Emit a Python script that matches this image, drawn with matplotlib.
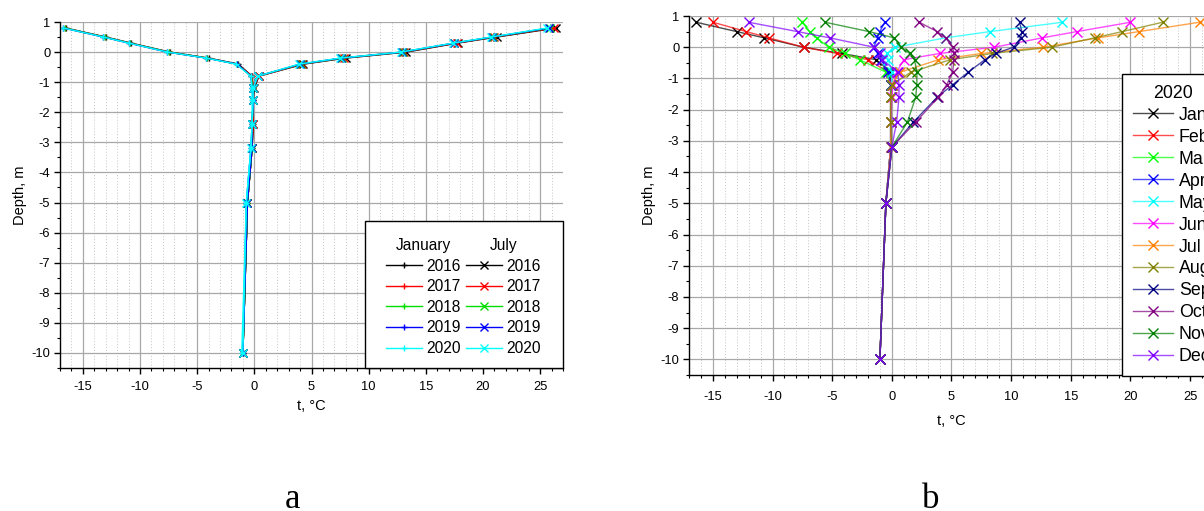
import matplotlib
matplotlib.use("Agg")
import matplotlib.pyplot as plt
from matplotlib.lines import Line2D
from matplotlib.patches import Rectangle
from matplotlib.legend_handler import HandlerTuple
from matplotlib.ticker import MultipleLocator

plt.rcParams['font.family'] = ['Liberation Sans', 'DejaVu Sans']
plt.rcParams['axes.unicode_minus'] = False

W, H = 1204, 511

# measurement depths, m (positive = above ground)
depth = [0.8, 0.5, 0.3, 0, -0.2, -0.4, -0.8, -1.2, -1.6, -2.4, -3.2, -5, -10]

# (a) January / July profiles for each year
years = ['2016', '2017', '2018', '2019', '2020']
year_colors = ['#000000', '#ff0000', '#00e000', '#0000ff', '#00ffff']

jan_2016 = [-16.5, -13.0, -10.8, -7.4, -4.0, -1.4, -0.2, -0.1, -0.1, -0.1, -0.2, -0.6, -1.0]
jan_2017 = [-16.6, -13.1, -10.9, -7.5, -4.1, -1.5, -0.2, -0.1, -0.1, -0.2, -0.2, -0.6, -1.0]
jan_2018 = [-16.6, -13.1, -10.9, -7.5, -4.1, -1.5, -0.3, -0.1, -0.1, -0.2, -0.2, -0.6, -1.0]
jan_2019 = [-16.7, -13.2, -11.0, -7.6, -4.2, -1.5, -0.3, -0.2, -0.1, -0.2, -0.3, -0.7, -1.0]
jan_2020 = [-16.7, -13.2, -11.0, -7.6, -4.2, -1.6, -0.3, -0.2, -0.2, -0.2, -0.3, -0.7, -1.1]

jul_2016 = [26.4, 21.2, 17.8, 13.3, 8.0, 4.3, 0.4, 0.0, -0.1, -0.1, -0.2, -0.6, -1.0]
jul_2017 = [26.2, 21.0, 17.7, 13.1, 7.8, 4.2, 0.4, -0.1, -0.1, -0.1, -0.2, -0.6, -1.0]
jul_2018 = [25.9, 20.9, 17.5, 13.0, 7.7, 4.1, 0.3, -0.1, -0.1, -0.2, -0.2, -0.6, -1.0]
jul_2019 = [25.8, 20.8, 17.5, 12.9, 7.6, 4.0, 0.3, -0.1, -0.1, -0.2, -0.2, -0.6, -1.0]
jul_2020 = [25.6, 20.7, 17.4, 12.8, 7.5, 3.9, 0.3, -0.1, -0.1, -0.2, -0.3, -0.7, -1.0]

jan_by_year = [jan_2016, jan_2017, jan_2018, jan_2019, jan_2020]
jul_by_year = [jul_2016, jul_2017, jul_2018, jul_2019, jul_2020]

# (b) monthly profiles, 2020
months = ['Jan', 'Feb', 'Mar', 'Apr', 'May', 'Jun',
          'Jul', 'Aug', 'Sep', 'Oct', 'Nov', 'Dec']
month_colors = ['#000000', '#ff0000', '#00ff00', '#0000ff', '#00ffff', '#ff00ff',
                '#ff8000', '#808000', '#000080', '#800080', '#008000', '#8000ff']

t_jan = [-16.4, -13.0, -10.7, -7.4, -4.2, -1.3, -0.1, -0.1, -0.1, -0.1, -0.1, -0.5, -1.0]
t_feb = [-15.0, -12.2, -10.3, -7.4, -4.6, -2.0, -0.3, -0.1, -0.1, -0.1, -0.1, -0.5, -1.0]
t_mar = [-7.5, -6.9, -6.3, -5.3, -3.9, -2.7, -0.5, -0.1, -0.1, -0.1, -0.1, -0.5, -1.0]
t_apr = [-0.6, -1.0, -1.2, -1.5, -1.2, -0.9, -0.3, -0.1, -0.1, -0.1, -0.1, -0.5, -1.0]
t_may = [14.3, 8.2, 4.5, 0.3, -0.4, -0.3, 0.0, 0.0, -0.1, -0.1, -0.1, -0.5, -1.0]
t_jun = [20.0, 15.5, 12.6, 8.6, 4.0, 1.0, 0.4, 0.1, 0.0, -0.1, -0.1, -0.5, -1.0]
t_jul = [25.8, 20.7, 17.3, 12.7, 7.5, 3.9, 0.7, 0.0, -0.1, -0.1, -0.1, -0.5, -1.0]
t_aug = [22.7, 19.3, 17.0, 13.4, 8.4, 4.9, 1.6, 0.0, -0.1, -0.1, 0.0, -0.5, -1.0]
t_sep = [10.7, 10.9, 10.8, 10.2, 8.7, 7.8, 6.4, 5.1, 3.8, 1.8, 0.0, -0.5, -1.0]
t_oct = [2.3, 3.8, 4.5, 5.1, 5.2, 5.2, 5.1, 4.6, 3.9, 2.0, 0.0, -0.5, -1.0]
t_nov = [-5.6, -1.9, 0.2, 0.8, 1.5, 1.9, 2.1, 2.1, 2.0, 1.3, 0.0, -0.5, -1.0]
t_dec = [-12.0, -7.9, -5.2, -1.5, -1.0, -0.8, 0.5, 0.6, 0.6, 0.4, 0.0, -0.5, -1.0]

monthly = [t_jan, t_feb, t_mar, t_apr, t_may, t_jun,
           t_jul, t_aug, t_sep, t_oct, t_nov, t_dec]


fig = plt.figure(figsize=(W / 100, H / 100), dpi=100)


def add_axes_px(x0, x1, y0, y1):
    """Axes placed by pixel edges (origin top-left)."""
    return fig.add_axes([x0 / W, 1 - y1 / H, (x1 - x0) / W, (y1 - y0) / H])


def style_axes(ax, tick_pad, xlabel_pad):
    ax.set_xlim(-17, 27)
    ax.set_ylim(-10.5, 1)
    ax.xaxis.set_major_locator(MultipleLocator(5))
    ax.xaxis.set_minor_locator(MultipleLocator(1))
    ax.yaxis.set_major_locator(MultipleLocator(1))
    ax.yaxis.set_minor_locator(MultipleLocator(0.5))
    ax.grid(which='major', color='#a8a8a8', lw=0.9)
    ax.grid(which='minor', axis='x', color='#c4c4c4', lw=0.7, ls=(0, (1, 2)))
    ax.grid(which='minor', axis='y', visible=False)
    ax.set_axisbelow(True)
    for side in ('top', 'right'):
        ax.spines[side].set_visible(False)
    for side in ('left', 'bottom'):
        ax.spines[side].set_linewidth(1.0)
    ax.tick_params(which='major', direction='out', length=4, width=1,
                   labelsize=9.3, pad=3)
    ax.tick_params(axis='x', which='major', pad=tick_pad)
    ax.tick_params(which='minor', direction='out', length=2.5, width=0.8)
    ax.set_xlabel('t, °C', fontsize=10.5, labelpad=xlabel_pad)
    ax.set_ylabel('Depth, m', fontsize=10.5, labelpad=3)


# ---- panel (a) ----
ax_a = add_axes_px(60, 563, 22, 368)
style_axes(ax_a, tick_pad=5, xlabel_pad=5)

for jan, jul, c in zip(jan_by_year, jul_by_year, year_colors):
    ax_a.plot(jan, depth, color=c, lw=1, marker='+', ms=5, mew=1)
    ax_a.plot(jul, depth, color=c, lw=1, marker='x', ms=5.5, mew=1)

# legend frame shared by the two year columns
ax_a.add_patch(Rectangle((0.606, 0), 0.394, 0.425, transform=ax_a.transAxes,
                         fc='white', ec='black', lw=1, zorder=4, clip_on=False))

leg_kw = dict(bbox_transform=fig.transFigure, loc='upper left', frameon=False,
              fontsize=11.2, title_fontsize=11.2, borderpad=0, borderaxespad=0,
              handlelength=2.3, handletextpad=0.3, labelspacing=0.36)
jan_handles = [Line2D([], [], color=c, lw=1, marker='+', ms=5, mew=1)
               for c in year_colors]
jul_handles = [Line2D([], [], color=c, lw=1, marker='x', ms=5.5, mew=1)
               for c in year_colors]
leg_jan = ax_a.legend(jan_handles, years, title='January',
                      bbox_to_anchor=(386 / W, 1 - 238 / H), **leg_kw)
leg_jan.set_zorder(5)
ax_a.add_artist(leg_jan)
leg_jul = ax_a.legend(jul_handles, years, title='July',
                      bbox_to_anchor=(466 / W, 1 - 238 / H), **leg_kw)
leg_jul.set_zorder(5)

# ---- panel (b) ----
ax_b = add_axes_px(689, 1214, 16, 375)
style_axes(ax_b, tick_pad=7.5, xlabel_pad=8)

month_handles = []
for temps, c in zip(monthly, month_colors):
    ln, = ax_b.plot(temps, depth, color=c, lw=1, alpha=0.7)
    mk, = ax_b.plot(temps, depth, ls='none', color=c, marker='x', ms=6.5, mew=1)
    month_handles.append((ln, mk))

leg_b = ax_b.legend(month_handles, months, title='2020',
                    handler_map={tuple: HandlerTuple(ndivide=1)},
                    loc='upper left', bbox_to_anchor=(1122 / W, 1 - 74 / H),
                    bbox_transform=fig.transFigure, borderaxespad=0,
                    fontsize=12.8, title_fontsize=12.8, fancybox=False,
                    edgecolor='black', framealpha=1, borderpad=0.6,
                    handlelength=2.25, handletextpad=0.35, labelspacing=0.28)
leg_b.get_frame().set_linewidth(1)

# panel letters
fig.text(292 / W, 1 - 508 / H, 'a', family='Liberation Serif', fontsize=25,
         ha='center', va='baseline')
fig.text(931 / W, 1 - 508 / H, 'b', family='Liberation Serif', fontsize=25,
         ha='center', va='baseline')

fig.savefig('out.png', dpi=100)
